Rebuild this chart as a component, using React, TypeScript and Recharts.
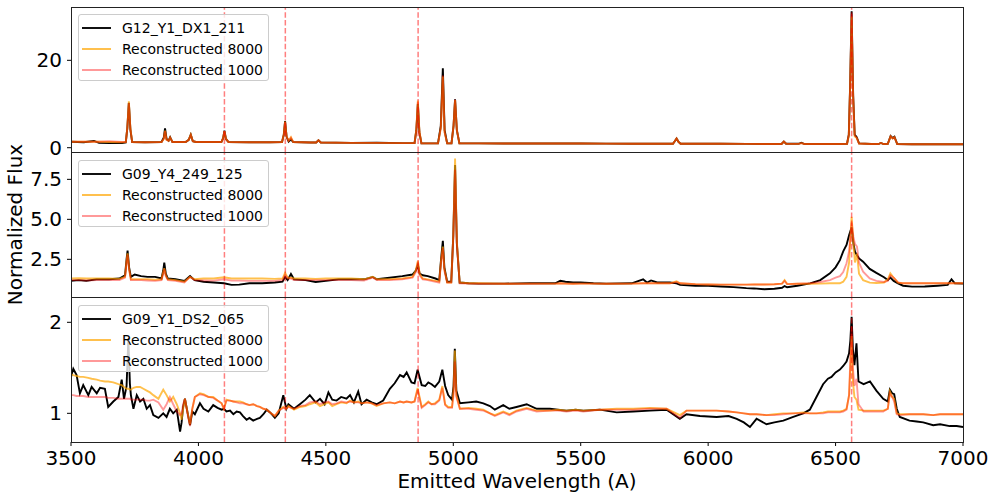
import React from 'react';
import { LineChart, Line, XAxis, YAxis, ReferenceLine, Legend, Label } from 'recharts';

const FONT = '"DejaVu Sans", sans-serif';

const xTicks = [3500, 4000, 4500, 5000, 5500, 6000, 6500, 7000];
const balmerLines = [4102, 4341, 4862, 6563];

const names1 = ['G12_Y1_DX1_211', 'Reconstructed 8000', 'Reconstructed 1000'];
const names2 = ['G09_Y4_249_125', 'Reconstructed 8000', 'Reconstructed 1000'];
const names3 = ['G09_Y1_DS2_065', 'Reconstructed 8000', 'Reconstructed 1000'];

// ---------- Panel 1 ----------
const wave1 = [
  3500, 3550, 3590, 3610, 3650, 3700, 3715, 3721, 3727, 3733,
  3740, 3790, 3855, 3864, 3869, 3875, 3883, 3889, 3898, 3950,
  3962, 3970, 3978, 3990, 4050, 4090, 4097, 4102, 4108, 4118,
  4200, 4280, 4328, 4335, 4340, 4346, 4354, 4363, 4372, 4440,
  4462, 4471, 4480, 4600, 4700, 4800, 4848, 4855, 4861, 4867,
  4875, 4940, 4951, 4959, 4966, 4976, 4993, 5001, 5007, 5014,
  5024, 5100, 5200, 5300, 5400, 5500, 5600, 5700, 5800, 5862,
  5869, 5876, 5883, 5892, 5950, 6050, 6150, 6250, 6288, 6297,
  6306, 6355, 6366, 6378, 6450, 6520, 6545, 6552, 6557, 6563,
  6569, 6575, 6583, 6592, 6640, 6668, 6678, 6688, 6705, 6716,
  6724, 6731, 6742, 6800, 6900, 7000,
];
const obs1 = [
  1.35, 1.25, 1.55, 1.10, 1.05, 1.05, 1.20, 4.5, 10.3, 4.2,
  1.30, 1.25, 1.30, 2.3, 4.4, 2.0, 1.6, 2.4, 1.30, 1.30,
  1.8, 3.0, 1.5, 1.30, 1.30, 1.30, 2.2, 3.9, 2.0, 1.30,
  1.25, 1.25, 1.30, 3.0, 6.1, 2.5, 1.4, 1.9, 1.30, 1.20,
  1.20, 1.7, 1.20, 1.10, 1.15, 1.05, 1.05, 4.0, 10.0, 3.5,
  1.00, 1.00, 5.0, 18.2, 4.0, 1.00, 1.00, 5.0, 11.1, 4.0,
  1.00, 1.00, 0.98, 0.95, 0.95, 0.95, 0.93, 0.90, 0.90, 0.90,
  1.5, 2.1, 1.4, 0.90, 0.90, 0.90, 0.88, 0.85, 0.85, 1.4,
  0.90, 0.90, 1.15, 0.85, 0.85, 0.85, 0.90, 3.0, 14.0, 31.2,
  12.0, 3.0, 2.4, 1.00, 0.85, 0.85, 1.10, 0.85, 0.90, 2.7,
  2.2, 2.5, 0.85, 0.80, 0.80, 0.80,
];
const rec8k1 = [
  1.35, 1.35, 1.40, 1.35, 1.30, 1.25, 1.30, 4.6, 10.6, 4.4,
  1.30, 1.25, 1.30, 2.0, 3.9, 1.8, 1.6, 2.3, 1.30, 1.30,
  1.8, 3.0, 1.5, 1.30, 1.30, 1.30, 2.2, 3.8, 2.0, 1.30,
  1.25, 1.25, 1.30, 3.0, 6.0, 2.5, 1.6, 2.4, 1.30, 1.20,
  1.20, 1.7, 1.20, 1.10, 1.10, 1.05, 1.05, 4.2, 10.8, 3.8,
  1.00, 1.00, 4.5, 16.3, 3.5, 1.00, 1.00, 5.0, 10.9, 4.0,
  1.00, 1.00, 0.98, 0.95, 0.95, 0.95, 0.93, 0.90, 0.90, 0.90,
  1.5, 2.1, 1.4, 0.90, 0.90, 0.90, 0.88, 0.85, 0.85, 1.4,
  0.90, 0.88, 1.05, 0.85, 0.85, 0.85, 0.90, 2.8, 13.5, 30.0,
  11.5, 2.6, 2.2, 0.95, 0.85, 0.85, 1.10, 0.85, 0.90, 2.6,
  2.1, 2.4, 0.85, 0.80, 0.80, 0.80,
];
const rec1k1 = [
  1.35, 1.35, 1.40, 1.35, 1.50, 1.30, 1.30, 4.5, 10.2, 4.2,
  1.30, 1.25, 1.30, 2.0, 3.8, 1.8, 1.6, 2.3, 1.30, 1.30,
  1.8, 2.9, 1.5, 1.30, 1.30, 1.30, 2.2, 3.8, 2.0, 1.30,
  1.25, 1.25, 1.30, 3.0, 5.9, 2.5, 1.6, 2.3, 1.30, 1.20,
  1.20, 1.7, 1.20, 1.10, 1.10, 1.05, 1.05, 4.0, 10.4, 3.6,
  1.00, 1.00, 4.5, 16.6, 3.5, 1.00, 1.00, 5.0, 11.0, 4.0,
  1.00, 1.00, 0.98, 0.95, 0.95, 0.95, 0.93, 0.90, 0.90, 0.90,
  1.5, 2.1, 1.4, 0.90, 0.90, 0.90, 0.88, 0.85, 0.85, 1.4,
  0.90, 0.88, 1.05, 0.85, 0.85, 0.85, 0.90, 3.0, 14.0, 30.6,
  12.0, 2.8, 2.3, 0.95, 0.85, 0.85, 1.10, 0.85, 0.90, 2.6,
  2.1, 2.4, 0.85, 0.80, 0.80, 0.80,
];

// ---------- Panel 2 ----------
const wave2 = [
  3500, 3530, 3560, 3600, 3650, 3690, 3712, 3718, 3722, 3728,
  3735, 3750, 3775, 3800, 3830, 3855, 3862, 3866, 3872, 3880,
  3910, 3945, 3967, 3985, 4020, 4060, 4100, 4130, 4160, 4200,
  4250, 4300, 4330, 4340, 4350, 4363, 4375, 4420, 4460, 4500,
  4550, 4600, 4650, 4684, 4700, 4750, 4800, 4840, 4853, 4861,
  4868, 4880, 4900, 4930, 4945, 4952, 4959, 4965, 4976, 4992,
  5000, 5007, 5014, 5025, 5060, 5100, 5200, 5300, 5400, 5420,
  5440, 5470, 5500, 5550, 5600, 5700, 5745, 5760, 5776, 5800,
  5850, 5876, 5890, 5950, 6000, 6050, 6100, 6150, 6180, 6220,
  6260, 6290, 6300, 6310, 6350, 6400, 6440, 6478, 6500, 6517,
  6530, 6543, 6553, 6563, 6570, 6576, 6584, 6592, 6608, 6634,
  6660, 6690, 6705, 6715, 6728, 6745, 6765, 6800, 6850, 6900,
  6940, 6955, 6968, 7000,
];
const obs2 = [
  1.15, 1.20, 1.15, 1.25, 1.25, 1.30, 1.50, 2.5, 3.04, 2.0,
  1.40, 1.55, 1.45, 1.40, 1.40, 1.30, 1.80, 2.30, 1.60, 1.30,
  1.25, 1.15, 1.45, 1.20, 1.10, 1.05, 1.00, 0.90, 0.92, 1.00,
  1.00, 1.05, 1.10, 1.40, 1.20, 1.58, 1.25, 1.20, 1.08, 1.15,
  1.25, 1.25, 1.25, 1.40, 1.25, 1.35, 1.45, 1.55, 1.80, 2.15,
  1.60, 1.50, 1.45, 1.30, 1.20, 2.50, 3.66, 2.00, 1.10, 1.10,
  4.0, 8.4, 3.5, 1.05, 1.00, 0.98, 0.98, 1.00, 1.00, 1.16,
  1.10, 1.05, 1.05, 1.00, 0.98, 1.00, 1.25, 1.05, 1.18, 1.05,
  1.05, 1.00, 0.90, 0.85, 0.85, 0.80, 0.76, 0.70, 0.68, 0.63,
  0.66, 0.72, 0.83, 0.75, 0.85, 1.00, 1.20, 1.62, 2.00, 2.45,
  3.00, 3.40, 4.00, 4.50, 3.50, 2.98, 2.75, 2.56, 2.35, 1.90,
  1.65, 1.38, 1.20, 1.36, 1.15, 1.00, 0.85, 0.79, 0.80, 0.85,
  0.90, 1.25, 1.00, 0.98,
];
const rec8k2 = [
  1.30, 1.32, 1.30, 1.30, 1.30, 1.28, 1.40, 2.4, 2.87, 1.9,
  1.25, 1.25, 1.25, 1.25, 1.22, 1.25, 1.70, 1.95, 1.50, 1.25,
  1.20, 1.10, 1.40, 1.25, 1.30, 1.30, 1.38, 1.30, 1.30, 1.30,
  1.30, 1.28, 1.30, 1.66, 1.35, 1.35, 1.30, 1.30, 1.28, 1.30,
  1.30, 1.30, 1.25, 1.41, 1.25, 1.25, 1.30, 1.40, 1.80, 2.40,
  1.60, 1.30, 1.25, 1.15, 1.10, 2.40, 3.30, 1.90, 1.05, 1.05,
  4.0, 8.8, 3.6, 1.05, 1.00, 1.00, 0.97, 0.98, 0.98, 1.00,
  0.98, 0.97, 0.98, 0.98, 0.97, 0.98, 1.00, 1.00, 1.00, 1.00,
  1.00, 1.12, 1.00, 0.95, 0.93, 0.92, 0.92, 0.92, 0.93, 0.93,
  0.94, 0.98, 1.20, 0.95, 0.97, 0.97, 0.98, 1.00, 1.00, 1.00,
  1.10, 1.40, 2.30, 5.16, 3.50, 2.30, 2.85, 1.60, 1.20, 1.04,
  1.02, 1.05, 1.25, 1.62, 1.35, 1.04, 1.00, 1.00, 1.00, 1.00,
  1.00, 1.00, 1.00, 1.00,
];
const rec1k2 = [
  1.20, 1.20, 1.18, 1.20, 1.20, 1.20, 1.35, 2.3, 2.80, 1.85,
  1.20, 1.20, 1.20, 1.18, 1.15, 1.20, 1.60, 1.90, 1.45, 1.20,
  1.15, 1.05, 1.40, 1.20, 1.18, 1.17, 1.25, 1.17, 1.17, 1.15,
  1.15, 1.15, 1.20, 1.55, 1.30, 1.30, 1.20, 1.20, 1.20, 1.20,
  1.20, 1.20, 1.18, 1.35, 1.20, 1.20, 1.25, 1.35, 1.70, 2.30,
  1.50, 1.25, 1.20, 1.10, 1.05, 2.30, 3.20, 1.80, 1.05, 1.05,
  3.8, 8.1, 3.4, 1.00, 0.98, 0.97, 0.97, 0.97, 0.98, 1.00,
  0.98, 0.97, 0.98, 0.98, 0.97, 0.98, 1.00, 1.00, 1.00, 1.00,
  1.00, 1.08, 1.00, 0.95, 0.93, 0.92, 0.92, 0.92, 0.93, 0.93,
  0.94, 0.98, 1.15, 0.95, 0.97, 1.00, 1.08, 1.20, 1.35, 1.45,
  1.70, 2.25, 3.00, 4.80, 3.90, 3.46, 3.30, 2.30, 1.73, 1.30,
  1.15, 1.08, 1.15, 1.50, 1.35, 1.06, 1.00, 1.00, 1.00, 1.00,
  1.00, 1.00, 1.00, 1.00,
];

// ---------- Panel 3 ----------
const wave3 = [
  3500, 3509, 3522, 3535, 3548, 3568, 3581, 3601, 3614, 3633,
  3646, 3666, 3686, 3699, 3708, 3718, 3725, 3731, 3735, 3745,
  3758, 3771, 3784, 3797, 3810, 3823, 3843, 3862, 3875, 3888,
  3901, 3915, 3928, 3934, 3940, 3947, 3958, 3967, 3976, 3986,
  4006, 4020, 4039, 4058, 4075, 4091, 4100, 4110, 4124, 4137,
  4150, 4163, 4175, 4189, 4200, 4215, 4230, 4241, 4255, 4268,
  4285, 4300, 4315, 4333, 4345, 4353, 4375, 4398, 4420, 4437,
  4460, 4477, 4495, 4510, 4525, 4542, 4560, 4581, 4595, 4610,
  4627, 4640, 4660, 4680, 4699, 4725, 4751, 4770, 4791, 4805,
  4817, 4836, 4848, 4860, 4876, 4890, 4902, 4915, 4928, 4945,
  4957, 4968, 4980, 4995, 5001, 5006, 5012, 5026, 5060, 5090,
  5118, 5144, 5163, 5196, 5220, 5248, 5288, 5327, 5379, 5410,
  5444, 5480, 5510, 5575, 5641, 5706, 5772, 5837, 5889, 5915,
  5968, 6033, 6080, 6112, 6140, 6164, 6190, 6229, 6260, 6295,
  6334, 6373, 6399, 6425, 6451, 6470, 6484, 6500, 6517, 6530,
  6543, 6553, 6558, 6563, 6568, 6574, 6582, 6590, 6610, 6635,
  6660, 6687, 6705, 6713, 6722, 6730, 6740, 6752, 6790, 6818,
  6844, 6883, 6910, 6948, 6975, 7000,
];
const obs3 = [
  1.40, 1.49, 1.42, 1.22, 1.31, 1.20, 1.29, 1.22, 1.28, 1.27,
  1.07, 1.13, 1.18, 1.37, 1.16, 1.30, 1.82, 1.33, 1.20, 1.05,
  1.20, 1.13, 1.16, 1.05, 1.09, 0.98, 0.95, 1.00, 0.96, 1.05,
  1.00, 1.04, 0.80, 0.90, 1.07, 1.16, 1.00, 0.87, 1.02, 0.99,
  1.11, 1.05, 1.02, 1.09, 1.06, 1.04, 1.05, 1.02, 1.03, 0.99,
  1.02, 1.01, 0.97, 0.93, 0.95, 0.92, 0.94, 0.95, 0.99, 1.04,
  1.00, 0.95, 1.00, 1.20, 1.05, 1.10, 1.05, 1.10, 1.15, 1.20,
  1.12, 1.16, 1.10, 1.23, 1.15, 1.14, 1.18, 1.16, 1.20, 1.12,
  1.24, 1.10, 1.15, 1.12, 1.10, 1.14, 1.27, 1.33, 1.42, 1.40,
  1.45, 1.34, 1.33, 1.48, 1.31, 1.30, 1.34, 1.32, 1.29, 1.35,
  1.48, 1.30, 1.20, 1.15, 1.30, 1.71, 1.25, 1.11, 1.12, 1.13,
  1.11, 1.08, 1.04, 1.09, 1.05, 1.07, 1.10, 1.05, 1.05, 1.04,
  1.03, 1.04, 1.03, 1.04, 1.01, 1.02, 1.03, 1.04, 0.94, 0.99,
  0.97, 0.96, 0.97, 0.94, 0.90, 0.85, 0.94, 0.88, 0.90, 0.92,
  0.96, 1.00, 1.04, 1.18, 1.32, 1.38, 1.40, 1.45, 1.48, 1.52,
  1.57, 1.66, 1.80, 2.06, 1.70, 1.53, 1.77, 1.35, 1.32, 1.35,
  1.25, 1.16, 1.13, 1.26, 1.22, 1.21, 1.05, 0.96, 0.92, 0.91,
  0.90, 0.87, 0.88, 0.86, 0.86, 0.85,
];
const rec8k3 = [
  1.43, 1.42, 1.41, 1.40, 1.40, 1.39, 1.38, 1.37, 1.36, 1.35,
  1.35, 1.34, 1.32, 1.31, 1.29, 1.27, 1.27, 1.26, 1.26, 1.28,
  1.29, 1.29, 1.27, 1.25, 1.23, 1.20, 1.16, 1.26, 1.20, 1.13,
  1.18, 1.10, 1.00, 0.93, 1.05, 1.16, 1.00, 0.88, 1.05, 1.18,
  1.22, 1.21, 1.18, 1.18, 1.14, 1.11, 1.05, 1.15, 1.14, 1.13,
  1.13, 1.13, 1.12, 1.10, 1.09, 1.10, 1.08, 1.07, 1.05, 1.04,
  1.00, 0.97, 1.03, 1.07, 1.05, 1.08, 1.04, 1.07, 1.08, 1.10,
  1.12, 1.08, 1.10, 1.12, 1.08, 1.10, 1.12, 1.11, 1.14, 1.12,
  1.13, 1.11, 1.12, 1.11, 1.08, 1.11, 1.12, 1.11, 1.13, 1.12,
  1.13, 1.12, 1.13, 1.28, 1.07, 1.10, 1.13, 1.10, 1.11, 1.15,
  1.30, 1.10, 1.07, 1.07, 1.25, 1.69, 1.20, 1.05, 1.06, 1.05,
  1.04, 1.00, 0.98, 1.02, 0.99, 1.03, 1.06, 1.03, 1.03, 1.04,
  1.03, 1.04, 1.03, 1.04, 1.05, 1.05, 1.06, 1.05, 0.98, 1.03,
  1.03, 1.03, 1.02, 1.01, 1.00, 0.99, 0.99, 0.98, 0.99, 1.00,
  1.00, 1.01, 1.00, 1.00, 1.01, 1.02, 1.02, 1.02, 1.02, 1.03,
  1.05, 1.20, 1.50, 1.85, 1.35, 1.18, 1.15, 1.04, 1.03, 1.03,
  1.03, 1.03, 1.05, 1.24, 1.18, 1.16, 1.00, 0.99, 0.99, 0.99,
  0.99, 0.98, 0.99, 0.99, 0.99, 0.99,
];
const rec1k3 = [
  1.20, 1.20, 1.19, 1.19, 1.19, 1.18, 1.18, 1.18, 1.18, 1.18,
  1.17, 1.17, 1.16, 1.16, 1.16, 1.16, 1.16, 1.16, 1.15, 1.15,
  1.15, 1.15, 1.15, 1.14, 1.14, 1.15, 1.12, 1.04, 1.10, 1.18,
  1.10, 1.02, 0.98, 1.00, 1.10, 1.16, 0.98, 0.86, 1.05, 1.18,
  1.21, 1.20, 1.18, 1.17, 1.14, 1.11, 1.05, 1.14, 1.14, 1.13,
  1.12, 1.11, 1.11, 1.10, 1.09, 1.10, 1.08, 1.07, 1.05, 1.04,
  1.00, 0.97, 1.03, 1.06, 1.05, 1.07, 1.05, 1.08, 1.09, 1.12,
  1.13, 1.10, 1.12, 1.13, 1.10, 1.11, 1.13, 1.12, 1.13, 1.12,
  1.12, 1.11, 1.12, 1.11, 1.09, 1.11, 1.12, 1.11, 1.13, 1.12,
  1.13, 1.12, 1.13, 1.26, 1.06, 1.09, 1.12, 1.10, 1.10, 1.14,
  1.28, 1.09, 1.06, 1.06, 1.20, 1.57, 1.18, 1.05, 1.05, 1.04,
  1.03, 1.00, 0.97, 1.01, 0.98, 1.02, 1.05, 1.02, 1.03, 1.03,
  1.02, 1.03, 1.02, 1.04, 1.04, 1.04, 1.05, 1.05, 0.95, 1.03,
  1.03, 1.03, 1.02, 1.01, 1.00, 0.99, 0.99, 0.98, 0.98, 0.99,
  1.00, 1.00, 1.00, 1.00, 1.00, 1.01, 1.01, 1.01, 1.01, 1.02,
  1.04, 1.20, 1.60, 1.95, 1.50, 1.30, 1.38, 1.10, 1.02, 1.02,
  1.02, 1.02, 1.05, 1.22, 1.18, 1.13, 0.99, 0.98, 0.99, 0.99,
  0.99, 0.98, 0.99, 0.99, 0.99, 0.99,
];

const buildRows = (w: number[], a: number[], b: number[], c: number[]) =>
  w.map((x, i) => ({ w: x, obs: a[i], r8k: b[i], r1k: c[i] }));

const rows1 = buildRows(wave1, obs1, rec8k1, rec1k1);
const rows2 = buildRows(wave2, obs2, rec8k2, rec1k2);
const rows3 = buildRows(wave3, obs3, rec8k3, rec1k3);

const seriesKeys = ['obs', 'r8k', 'r1k'];
const legendColors = ['#111111', '#FFC04D', '#FF9999'];

const LegendBox = ({ names }: { names: string[] }) => (
  <div
    style={{
      boxSizing: 'border-box',
      width: 191,
      height: 67,
      border: '1px solid #cccccc',
      borderRadius: 3,
      background: 'rgba(255,255,255,0.8)',
      padding: '2px 0 0 3px',
      fontFamily: FONT,
      fontSize: 14,
      color: '#000',
    }}
  >
    {seriesKeys.map((k, i) => (
      <div key={k} style={{ display: 'flex', alignItems: 'center', height: 21 }}>
        <span
          style={{
            display: 'inline-block',
            width: 29,
            height: 0,
            borderTop: `2px solid ${legendColors[i]}`,
            marginRight: 11,
          }}
        />
        <span style={{ whiteSpace: 'nowrap' }}>{names[i]}</span>
      </div>
    ))}
  </div>
);

type PanelProps = {
  top: number;
  rows: any[];
  names: string[];
  domain: [number, number];
  ticks: number[];
  fmt: (v: number) => string;
  showX?: boolean;
  yLabel?: boolean;
  legendTop: number;
};

const PLOT_H = 145;
const XAXIS_H = 56;
const PAD = 30;
const LW = 1.9;

const Panel = ({ top, rows, names, domain, ticks, fmt, showX, yLabel, legendTop }: PanelProps) => {
  const padBottom = showX ? 0 : PAD;
  const h = PAD + PLOT_H + padBottom + (showX ? XAXIS_H : 0);
  return (
    <div style={{ position: 'absolute', left: 0, top: top - PAD }}>
      <LineChart width={996} height={h} data={rows} margin={{ top: PAD, right: 33, bottom: padBottom, left: 0 }}>
        <XAxis
          dataKey="w"
          type="number"
          domain={[3500, 7000]}
          ticks={xTicks}
          interval={0}
          allowDataOverflow
          hide={!showX}
          height={showX ? XAXIS_H : 0}
          axisLine={false}
          tickSize={4}
          tickMargin={5}
          tickLine={{ stroke: '#000' }}
          tick={{ fontSize: 20, fill: '#000', fontFamily: FONT }}
        >
          {showX ? (
            <Label
              value="Emitted Wavelength (A)"
              position="insideBottom"
              offset={10}
              style={{ fontSize: 20, fill: '#000', fontFamily: FONT }}
            />
          ) : null}
        </XAxis>
        <YAxis
          type="number"
          width={71}
          domain={domain}
          ticks={ticks}
          interval={0}
          allowDataOverflow
          axisLine={false}
          tickSize={4}
          tickMargin={5}
          tickLine={{ stroke: '#000' }}
          tickFormatter={fmt}
          tick={{ fontSize: 20, fill: '#000', fontFamily: FONT }}
        >
          {yLabel ? (
            <Label
              value="Normalized Flux"
              angle={-90}
              position="insideLeft"
              offset={15}
              style={{ fontSize: 20, fill: '#000', fontFamily: FONT, textAnchor: 'middle' }}
            />
          ) : null}
        </YAxis>
        <Line dataKey="obs" name={names[0]} type="linear" stroke="#000000" strokeWidth={LW} dot={false} activeDot={false} isAnimationActive={false} />
        <Line dataKey="r8k" name={names[1]} type="linear" stroke="#FFA500" strokeOpacity={0.7} strokeWidth={LW} dot={false} activeDot={false} isAnimationActive={false} />
        <Line dataKey="r1k" name={names[2]} type="linear" stroke="#FF0000" strokeOpacity={0.4} strokeWidth={LW} dot={false} activeDot={false} isAnimationActive={false} />
        {balmerLines.map((x) => (
          <ReferenceLine
            key={x}
            x={x}
            stroke="#FF0000"
            strokeOpacity={0.5}
            strokeWidth={1.5}
            strokeDasharray="5.5 2.4"
          />
        ))}
        <Legend
          layout="vertical"
          align="center"
          verticalAlign="middle"
          content={<LegendBox names={names} />}
          wrapperStyle={{ left: 78, top: PAD + legendTop, width: 191, height: 67 }}
        />
      </LineChart>
      <div
        style={{
          position: 'absolute',
          left: 71,
          top: PAD,
          width: 893,
          height: 146,
          boxSizing: 'border-box',
          border: '1px solid #222',
          pointerEvents: 'none',
        }}
      />
    </div>
  );
};

export default function App() {
  return (
    <div style={{ position: 'absolute', left: 0, top: 0, width: 996, height: 498, background: '#fff', overflow: 'hidden' }}>
      <Panel
        top={7}
        rows={rows1}
        names={names1}
        domain={[-0.98, 32.2]}
        ticks={[0, 20]}
        fmt={(v) => String(v)}
        legendTop={7}
      />
      <Panel
        top={152}
        rows={rows2}
        names={names2}
        domain={[0.144, 9.21]}
        ticks={[2.5, 5.0, 7.5]}
        fmt={(v) => v.toFixed(1)}
        yLabel
        legendTop={8}
      />
      <Panel
        top={297}
        rows={rows3}
        names={names3}
        domain={[0.685, 2.278]}
        ticks={[1, 2]}
        fmt={(v) => String(v)}
        showX
        legendTop={8}
      />
    </div>
  );
}
